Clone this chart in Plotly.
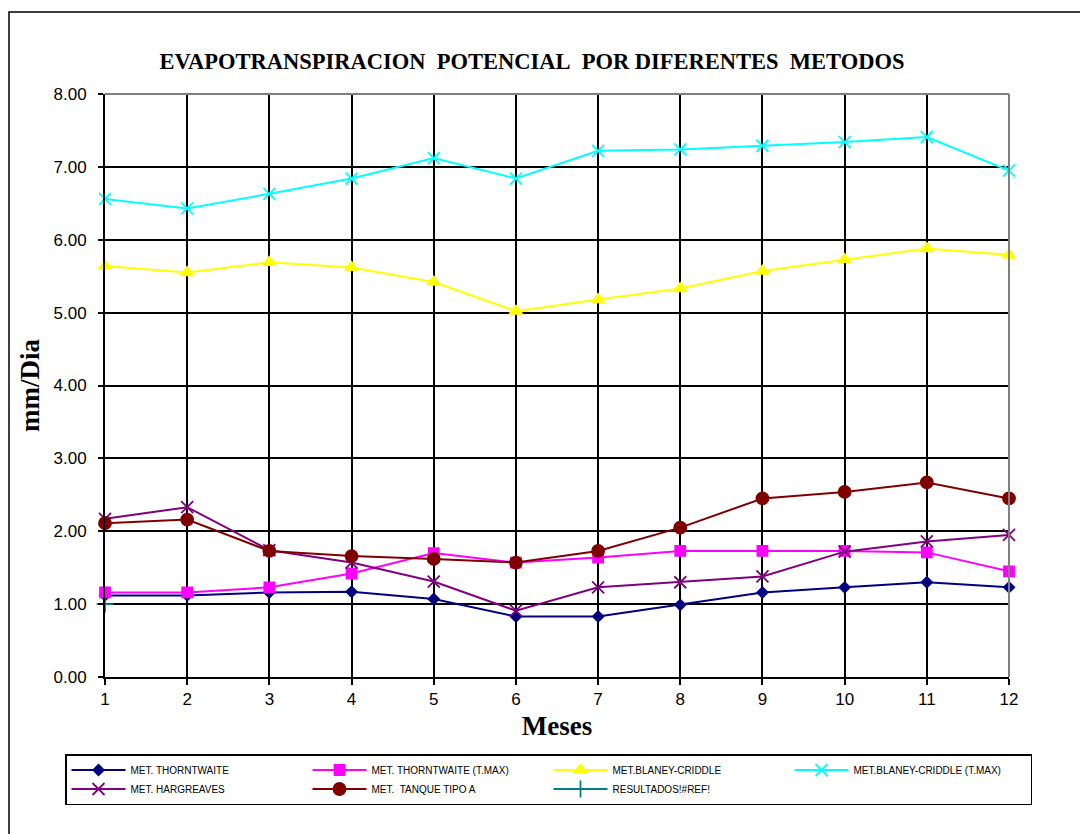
import plotly.graph_objects as go

# Meses del año
meses = list(range(1, 13))

# Evapotranspiración potencial (mm/día) por método
thornthwaite = [1.12, 1.12, 1.16, 1.17, 1.07, 0.83, 0.83, 0.99, 1.16, 1.23, 1.30, 1.23]
thornthwaite_tmax = [1.16, 1.16, 1.23, 1.42, 1.70, 1.57, 1.64, 1.73, 1.73, 1.73, 1.71, 1.45]
blaney_criddle = [5.64, 5.55, 5.69, 5.62, 5.42, 5.02, 5.18, 5.33, 5.57, 5.73, 5.88, 5.79]
blaney_criddle_tmax = [6.56, 6.43, 6.63, 6.84, 7.12, 6.84, 7.22, 7.24, 7.29, 7.34, 7.41, 6.95]
hargreaves = [2.17, 2.33, 1.74, 1.57, 1.31, 0.91, 1.23, 1.30, 1.38, 1.72, 1.86, 1.95]
tanque_tipo_a = [2.11, 2.16, 1.73, 1.66, 1.62, 1.57, 1.73, 2.05, 2.45, 2.54, 2.67, 2.45]
resultados_x = [1]
resultados = [1.00]

y_ticks = [0, 1, 2, 3, 4, 5, 6, 7, 8]

# Plot-area geometry in pixels (figure is 1080 x 834)
W, H = 1080, 834
PL, PR, PT, PB = 105, 1009, 94, 677


def px(x):
    return (x - PL) / (PR - PL)


def py(y):
    return (PB - y) / (PB - PT)


series = [
    ("MET. THORNTWAITE", meses, thornthwaite, "#000080", "diamond", 8),
    ("MET. THORNTWAITE (T.MAX)", meses, thornthwaite_tmax, "#FF00FF", "square", 10),
    ("MET.BLANEY-CRIDDLE", meses, blaney_criddle, "#FFFF00", "triangle-up", 11),
    ("MET.BLANEY-CRIDDLE (T.MAX)", meses, blaney_criddle_tmax, "#00FFFF", "x-thin-open", 12),
    ("MET. HARGREAVES", meses, hargreaves, "#800080", "x-thin-open", 12),
    ("MET.  TANQUE TIPO A", meses, tanque_tipo_a, "#800000", "circle", 12),
    ("RESULTADOS!#REF!", resultados_x, resultados, "#008080", "cross-thin-open", 12),
]

fig = go.Figure()
for name, xs, ys, color, symbol, size in series:
    fig.add_trace(go.Scatter(
        x=xs, y=ys, name=name.replace("  ", "\u00a0 "),
        mode="lines+markers",
        line=dict(color=color, width=2),
        marker=dict(symbol=symbol, size=size, color=color,
                    line=dict(color=color, width=1.8)),
        cliponaxis=False,
    ))

title_text = ("EVAPOTRANSPIRACION\u00a0 POTENCIAL\u00a0 POR DIFERENTES\u00a0 METODOS")

fig.update_layout(
    width=W, height=H,
    margin=dict(l=PL, r=W - PR, t=PT, b=H - PB, autoexpand=False),
    paper_bgcolor="white",
    plot_bgcolor="white",
    font=dict(family="Liberation Sans, Arial", color="black"),
    title=dict(
        text=title_text,
        x=532 / W, xanchor="center",
        y=1 - 61 / H, yanchor="middle",
        font=dict(family="Liberation Serif, Times New Roman", size=22.5, color="black",
                  weight="bold"),
    ),
    xaxis=dict(
        range=[1, 12],
        tickmode="array", tickvals=meses, ticktext=[str(m) for m in meses],
        showgrid=True, gridcolor="black", gridwidth=1.5,
        showline=True, linecolor="black", linewidth=2,
        ticks="outside", ticklen=6, tickwidth=1.5, tickcolor="black",
        tickfont=dict(size=17, family="Liberation Sans, Arial"),
        zeroline=False,
        title=dict(text="<b>Meses</b>", standoff=8,
                   font=dict(family="Liberation Serif, Times New Roman", size=27)),
    ),
    yaxis=dict(
        range=[0, 8],
        tickmode="array", tickvals=y_ticks,
        ticktext=[f"{v:.2f}" for v in y_ticks],
        showgrid=True, gridcolor="black", gridwidth=1.5,
        showline=True, linecolor="black", linewidth=2,
        ticks="outside", ticklen=5, tickwidth=1.5, tickcolor="black",
        ticklabelstandoff=8,
        tickfont=dict(size=17, family="Liberation Sans, Arial"),
        zeroline=False,
        title=dict(text="<b>mm/Dia</b>", standoff=6,
                   font=dict(family="Liberation Serif, Times New Roman", size=27)),
    ),
    legend=dict(
        orientation="h",
        x=px(65), xanchor="left",
        y=py(754), yanchor="top",
        bgcolor="white",
        bordercolor="black", borderwidth=1.5,
        font=dict(size=10, family="Liberation Sans, Arial", color="black"),
        entrywidth=172, entrywidthmode="pixels",
        itemwidth=54,
        traceorder="normal",
    ),
    showlegend=True,
    shapes=[
        # outer chart frame
        dict(type="rect", xref="paper", yref="paper",
             x0=px(9), y0=py(12), x1=px(1200), y1=py(1000),
             line=dict(color="black", width=1.5), layer="below"),
        # grey top and right edges of the plot area
        dict(type="line", xref="paper", yref="paper",
             x0=0, x1=1, y0=1, y1=1, line=dict(color="#808080", width=2)),
        dict(type="line", xref="paper", yref="paper",
             x0=1, x1=1, y0=0, y1=1, line=dict(color="#808080", width=2)),
    ],
)

fig.write_html("out.html")
